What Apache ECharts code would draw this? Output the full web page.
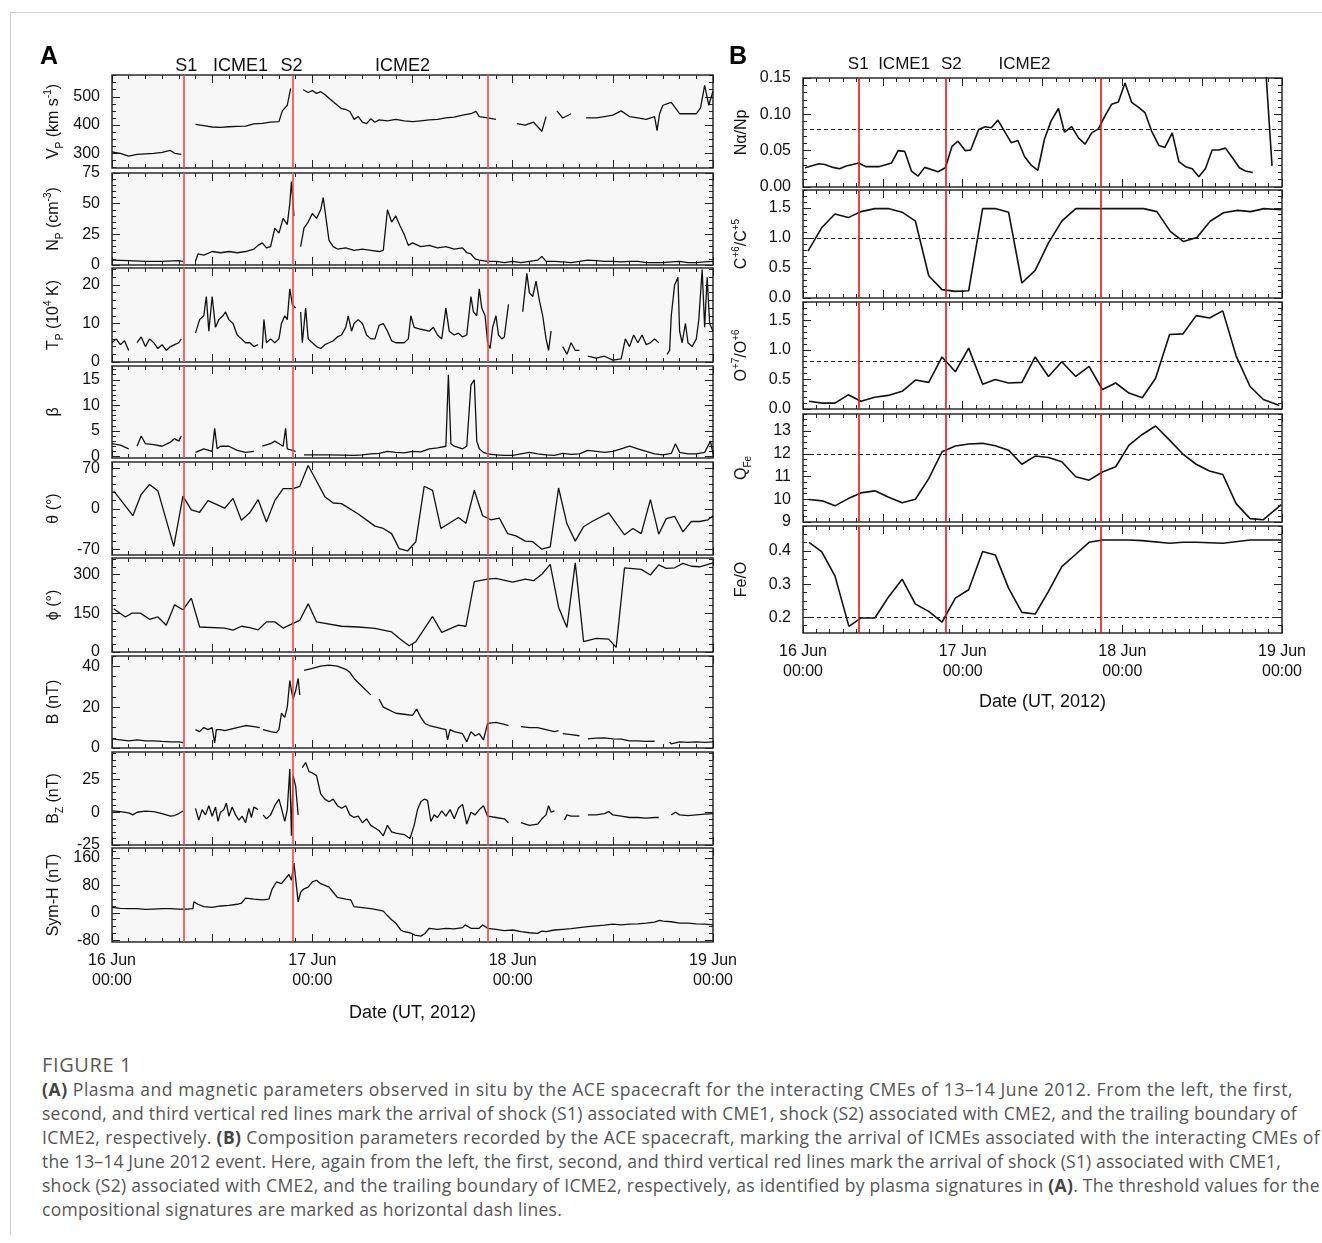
<!DOCTYPE html>
<html>
<head>
<meta charset="utf-8">
<title>ACE in situ parameters, 16-19 June 2012</title>
<script src="https://cdn.jsdelivr.net/npm/echarts@6/dist/echarts.min.js"></script>
<style>
  body { margin: 0; background: #fff; width: 1322px; height: 1243px; position: relative; overflow: hidden; }
  #frame { position: absolute; left: 10px; top: 12px; width: 1312px; height: 1222px; border-top: 1px solid #cfcfcf; border-left: 1px solid #cfcfcf; }
  #chart { position: absolute; left: 0; top: 0; width: 1322px; height: 1040px; }
  #caption { position: absolute; left: 42px; top: 1053px; font-family: 'Open Sans', sans-serif; font-size: 17.5px; line-height: 24px; color: #555; white-space: nowrap; }
  #caption .fig { font-size: 20px; color: #5a5a5a; }
  #caption b { color: #444; }
  #caption div { height: 24px; }
  #caption span { display: inline-block; }
</style>
</head>
<body>
<div id="frame"></div>
<div id="chart"></div>
<div id="caption">
  <div><span class="fig">FIGURE 1</span></div>
  <div><span><b>(A)</b> Plasma and magnetic parameters observed in situ by the ACE spacecraft for the interacting CMEs of 13–14 June 2012. From the left, the first,</span></div>
  <div><span>second, and third vertical red lines mark the arrival of shock (S1) associated with CME1, shock (S2) associated with CME2, and the trailing boundary of</span></div>
  <div><span>ICME2, respectively. <b>(B)</b> Composition parameters recorded by the ACE spacecraft, marking the arrival of ICMEs associated with the interacting CMEs of</span></div>
  <div><span>the 13–14 June 2012 event. Here, again from the left, the first, second, and third vertical red lines mark the arrival of shock (S1) associated with CME1,</span></div>
  <div><span>shock (S2) associated with CME2, and the trailing boundary of ICME2, respectively, as identified by plasma signatures in <b>(A)</b>. The threshold values for the</span></div>
  <div><span>compositional signatures are marked as horizontal dash lines.</span></div>
</div>
<script>
// time axis: hours since 16 Jun 00:00 UT
const hourTicks = [0, 24, 48, 72];
const dateLabels = ['16 Jun\n00:00', '17 Jun\n00:00', '18 Jun\n00:00', '19 Jun\n00:00'];
const boundariesA = [8.55, 21.7, 45.05];
const boundariesB = [8.45, 21.5, 44.8];
const eventNames = ['S1', 'ICME1', 'S2', 'ICME2'];
const eventHoursA = [8.9, 15.4, 21.5, 34.8];
const eventHoursB = [8.3, 15.2, 22.3, 33.3];

// panel A
const vp = [[0,305],[1,300],[2,290],[3,296],[4,298],[5,300],[6,303],[7,310],[7.5,300],[8.3,296],[8.5,null],
  [10,402],[11,398],[12,393],[13,392],[14,394],[15,395],[16,396],[17,404],[18,406],[19,410],[20,412],[20.4,450],[21,470],[21.4,530],[21.6,null],
  [22.9,525],[23.5,515],[24,522],[24.5,512],[25,518],[25.5,508],[26,495],[26.5,482],[27,470],[27.5,458],[28,455],[28.5,448],[29,420],[29.5,430],[30,410],[30.5,405],[31,422],[31.5,410],
  [32,418],[33,415],[34,420],[35,415],[36,412],[37,415],[38,418],[39,420],[40,425],[41,428],[42,435],[43,440],[43.6,448],[44,430],[45,425],[46,420],[46.5,null],
  [48.5,405],[49.5,400],[50.5,410],[51.5,378],[52,430],[52.3,null],[53.3,450],[54,425],[55,440],[55.5,null],
  [56.8,425],[58,425],[59,430],[60,435],[61,450],[62,430],[63,425],[64,420],[65,430],[65.3,380],[65.6,440],[66,470],[67,480],[68,440],[69,440],[70,440],[70.5,460],[71,540],[71.5,470],[72,520]];
const np = [[0,4],[2,3.5],[4,3],[6,3],[8,3.5],[8.5,3],[8.6,null],
  [10,3],[10.3,9],[11,8],[12,11],[13,10],[14,11],[15,10],[16,11],[17,13],[17.5,16],[18,18],[18.5,14],[19,15],[19.5,30],[20,26],[20.5,38],[21,33],[21.3,50],[21.5,68],[21.8,40],[22.2,null],
  [22.6,15],[23,30],[23.5,35],[24,42],[24.5,38],[25,45],[25.3,55],[25.6,40],[26,20],[26.5,15],[27,13],[28,14],[29,12],[30,13],[31,12],[32,11],[32.5,12],[33,45],[33.5,35],[34,40],[34.5,32],[35,25],[35.5,16],
  [36,18],[37,15],[38,16],[39,14],[40,15],[41,13],[42,14],[42.5,10],[43,9],[43.5,5],[44,4],[45,3],[46,3],[47,2],[48,3],[49,2],[50,3],[51,4],[51.5,7],[52,3],[53,3],[54,2.5],[55,2],
  [56,3],[57,4],[58,3.5],[59,3],[60,3],[61,2.5],[62,3],[63,3],[64,2],[65,2],[66,2],[67,2.5],[68,3],[69,2],[70,2],[71,2.5],[72,3]];
const tp = [[0,5],[0.5,6],[1,4.5],[1.5,5.5],[2,3],[2.5,null],[3,5],[3.5,6.5],[4,4],[4.5,6],[5,5],[5.5,3.5],[6,4.5],[6.5,3],[7,4],[7.5,4.5],[8,5],[8.3,6],[8.6,null],
  [10,7.5],[10.5,11],[11,12],[11.3,17],[11.6,8],[12,17],[12.4,9],[12.8,11],[13.3,12],[13.6,13],[14,11],[14.5,10],[15,7],[15.5,6],[16,5],[16.5,5],[17,4],[17.5,4.5],[17.8,null],
  [18,3.5],[18.2,11],[18.5,5],[19,6],[19.5,5],[20,6],[20.3,10],[20.7,12],[21,11],[21.3,19],[21.6,15],[22,14],[22.3,null],
  [22.6,13],[22.8,5],[23.2,14],[23.5,6],[24,5],[24.5,4],[25,3.5],[25.5,4.5],[26,5],[26.5,5.5],[27,6.5],[27.5,7],[28,9],[28.3,12],[28.7,8],[29,10],[29.5,11],[30,10],[30.5,7],[31,6],[31.5,6],
  [32,9.5],[32.5,10],[33,8],[33.5,5.5],[34,5],[35,5],[35.5,6],[35.8,12],[36.2,9],[37,8.5],[38,8],[38.5,9],[39,7],[39.5,6],[40,14],[40.4,8],[41,7],[41.5,7.5],[42,6.5],[42.5,7],
  [43,17],[43.3,13],[43.7,12],[44,19],[44.3,14],[44.7,12],[45,5],[45.3,3.5],[45.6,9],[46,12],[46.3,7],[46.7,6],[47,6.5],[47.5,15],[47.7,null],
  [49.2,13],[49.7,23],[50,18],[50.4,17],[50.8,21],[51.2,16],[51.6,12],[52,6],[52.3,3],[52.6,8],[52.8,null],
  [54,4],[54.5,2],[55,5],[55.5,3],[56,3],[56.2,null],[57,1.5],[58,1],[59,1.5],[60,0.5],[61,0.8],[61.5,6],[62,4],[62.5,7],[63,5],[63.5,7],[64,4.5],[64.5,5],[65,6],[65.5,5],[65.8,null],
  [66.5,2],[66.8,3],[67,12],[67.4,20],[67.8,22],[68,8],[68.3,5],[68.7,10],[69,5],[69.5,4],[70,6],[70.3,11],[70.7,24],[71,9],[71.3,22],[71.6,10],[72,8]];
const beta = [[0,2.5],[1,2.2],[2,1.5],[2.5,null],[3,2],[3.5,4],[4,2.5],[5,2.3],[6,2],[7,2.8],[7.5,3.5],[8,3],[8.3,4],[8.6,null],
  [10,0.8],[11,1.5],[12,1],[12.3,5.5],[12.6,1.5],[13,2],[14,2],[15,1.2],[16,0.8],[17,1],[17.5,null],
  [18,2],[19,2.5],[19.5,3],[20,2.5],[20.5,2],[20.8,5.5],[21,1.5],[22,1],[22.5,null],
  [23,0.3],[26,0.3],[29,0.2],[30,0.3],[31,0.5],[32,0.6],[33,1],[34,0.8],[35,0.7],[36,1],[37,0.9],[38,1.5],[39,1.7],[40,2],[40.3,16],[40.6,2.5],[41,2],[42,1.5],[42.5,2],[43,14],[43.4,15],[43.7,3],
  [44,1.5],[44.5,0.8],[45,0.5],[46,0.3],[47,0.2],[48,0.2],[49,0.5],[50,0.8],[51,0.5],[52,0.3],[53,0.2],[54,0.6],[55,0.4],[56,0.5],[57,1.2],[58,1],[59,0.8],[60,1],[61,1.5],[62,2],[63,1.5],
  [64,1],[65,0.5],[66,0.3],[67,0.6],[67.5,2.5],[68,0.8],[69,0.5],[70,0.5],[71,0.8],[71.7,3],[72,0.5]];
const theta = [[0.2,31],[2.5,-12],[3.5,25],[4.5,42],[5.5,31],[7.4,-65],[8.5,22],[9.5,-2],[10.5,-6],[11.5,14],[13.5,1],[14.5,18],[15.5,-20],[16.5,-7],[17.5,16],[18.5,-23],[19.5,14],[20.5,35],
  [21.7,35],[22.5,39],[23.5,75],[24.5,48],[25.5,21],[26.5,10],[27.5,9],[29.5,-9],[31.5,-30],[32.5,-34],[33.5,-43],[34.4,-69],[35.4,-73],[36.4,-57],[37.4,39],[38.4,32],[39.4,-34],[40.4,-25],
  [41.5,-15],[42.4,-25],[43.4,32],[44.4,-12],[45.4,-19],[46.4,-16],[47.4,-43],[48.4,-47],[49.5,-56],[50.4,-57],[51.5,-70],[52.5,-66],[53.5,36],[54.5,-26],[55.5,-56],[56.5,-31],[57.5,-22],
  [59.5,-7],[61.4,-45],[62.4,-34],[63.4,-43],[64.5,16],[65.5,-44],[66.4,-17],[67.4,-13],[68.4,-40],[69.4,-22],[70.4,-22],[71.4,-19],[72,-12]];
const phi = [[0.2,168],[1.6,136],[2.4,151],[3.4,151],[4.5,127],[5.5,136],[6.5,104],[7.5,183],[8.5,164],[9.5,209],[10.5,97],[13.5,93],[14.5,85],[15.5,100],[16.5,95],[17.5,86],[18.5,117],
  [19.5,117],[20.5,93],[21.5,108],[22.5,123],[23.5,187],[24.5,117],[27.5,100],[29.5,97],[31.5,92],[33.5,78],[34.4,53],[35.6,24],[36.4,40],[38.4,138],[39.5,76],[41.5,104],[42.4,100],
  [43.4,273],[45,283],[46,286],[48,271],[49.5,283],[50.5,277],[51.5,302],[52.5,340],[53.5,174],[54.5,95],[55.5,346],[56.5,40],[58,53],[59.5,50],[60.4,18],[61.4,327],[63.4,321],[64.5,299],
  [65.5,338],[66.4,325],[67.4,327],[68.4,344],[69.4,333],[70.4,331],[72,346]];
const bt = [[0,4.5],[1,4],[2,3.5],[3,4],[4,3.5],[5,3.5],[6,3.2],[7,3],[8,3],[8.5,2.6],[8.7,null],
  [10,9],[10.5,8],[11,10],[11.5,9],[12,10],[12.3,2.5],[12.5,9],[13,9],[13.5,8.5],[14,9],[15,10],[16,11],[17,10.5],[17.7,10],[17.9,null],
  [18.1,9],[19,8],[19.7,7.5],[20,9],[20.3,17],[20.7,15],[21,20],[21.3,33],[21.5,28],[21.7,24],[22,28],[22.3,34],[22.5,26],[22.7,null],
  [23,38],[24,39],[25,40],[26,40.5],[27,40],[28,38.5],[28.5,37],[29,34],[30,30],[31,26],[31.5,null],
  [32,24],[32.5,20],[33,19],[34,17],[35,16.5],[36,16],[36.5,19],[37,15],[37.5,12],[38,11],[39,10],[40,9],[40.2,4],[40.5,9],[41,8],[42,7],[42.5,3],[43,8],[43.5,6],[44,7],[44.5,4],
  [45,12],[46,12.5],[47,11.5],[47.5,11],[47.7,null],[49,10.5],[50,10],[51,10],[52,9],[53,8],[53.5,8.5],[53.7,null],[54,7],[55,6.5],[56,6],[56.3,null],
  [57,4.5],[58,4.8],[59,5],[60,4.5],[61,4.3],[62,3.5],[63,3.5],[64,3.2],[65,3.3],[65.6,null],[66.8,3],[67,2],[68,3],[69,2.8],[70,3],[71,2.8],[72,3]];
const bz = [[0,1],[1,0.5],[2,-0.5],[2.5,-2],[3,0],[4,0.8],[5,0.5],[6,-1],[6.5,-2],[7,-3],[7.5,-2.5],[8,-1],[8.5,1],[8.7,null],
  [10,3],[10.4,-6],[10.8,2],[11.2,-2],[11.6,5],[12,-3],[12.4,4],[12.7,-7],[13,0],[13.4,2],[13.7,7],[14,-3],[14.4,4],[14.8,-2],[15.2,-6],[15.6,-3],[16,-8],[16.4,3],[16.7,-4],[17,4],[17.5,2],[17.8,null],
  [18.1,-2],[18.5,-5],[19,-2],[19.5,5],[20,10],[20.3,3],[20.7,-7],[21,2],[21.3,33],[21.5,-18],[21.7,28],[22,20],[22.3,-2],[22.5,null],
  [22.8,34],[23.2,38],[23.6,31],[24,30],[24.5,28],[25,14],[25.5,10],[26,8],[26.5,10],[27,5],[27.5,3],[28,5],[28.5,-2],[29,-4],[29.5,-3],[30,-8],[30.5,-5],[31,-10],[31.5,-12],
  [32,-14],[32.5,-18],[33,-10],[33.5,-15],[34,-16],[35,-17],[35.7,-20],[36.2,-10],[36.6,2],[37,8],[37.4,10],[37.8,9],[38.2,-7],[38.6,-2],[39,-4],[39.5,1],[40,-3],[40.5,2],[41,-5],[41.5,3],
  [42,6],[42.5,-9],[43,0],[43.5,-2],[44,2],[44.5,5],[45,-3],[46,-4],[47,-5],[47.5,-8],[47.7,null],[49,-8],[50,-10],[51,-9],[51.5,-5],[52,-2],[52.3,5],[52.6,0],[53,1],[53.2,null],
  [54.2,-6],[54.5,-2],[55,-3],[56,-3],[56.2,null],[57,-2],[58,-2],[59,-1],[59.5,0.5],[60,-2],[61,-3],[62,-4],[63,-4],[64,-4.5],[65,-4],[65.5,-4],[65.8,null],
  [67,-2],[67.5,0],[68,-2],[69,-2.5],[70,-2],[71,-1.5],[72,-1]];
const symH = [[0,16],[1,13],[2,12],[3,12],[4,10],[5,11],[6,12],[7,12],[8,11],[9,11],[9.7,12],[9.8,32],[10.3,25],[11,18],[12,16],[13,20],[14,22],[15,25],[15.5,28],[16,43],[17,40],[18,38],
  [18.8,40],[19.2,70],[19.7,90],[20.3,85],[20.8,100],[21.2,112],[21.5,95],[21.8,145],[22,150],[22.3,32],[22.6,60],[23,70],[23.5,75],[24,90],[24.5,95],[25,85],[25.5,80],[26,75],[26.5,60],
  [27,45],[28,40],[28.6,38],[29,18],[30,15],[31,12],[32,8],[32.5,5],[33,-8],[33.5,-20],[34,-30],[34.6,-50],[35,-55],[35.7,-58],[36.3,-65],[37,-68],[37.5,-60],[38,-45],[39,-48],[40,-45],
  [41,-47],[42,-43],[42.3,-35],[43,-45],[44,-45],[44.4,-35],[45,-45],[46,-48],[47,-52],[48,-50],[49,-55],[50,-58],[51,-60],[51.5,-53],[52,-55],[53,-50],[54,-48],[55,-46],[56,-43],
  [57,-40],[58,-38],[59,-36],[60,-33],[61,-35],[62,-33],[63,-32],[64,-30],[65,-27],[65.6,-22],[66,-24],[67,-26],[68,-30],[69,-30],[70,-32],[71,-33],[72,-35]];

// panel B
const naNp = [[0.3,0.0265],[2.4,0.032],[3.3,0.031],[4.5,0.027],[5.5,0.025],[6.5,0.029],[8.4,0.033],[9.4,0.028],[11.4,0.028],[13.3,0.033],[14.3,0.05],[15.3,0.049],[16.3,0.022],[17.3,0.015],
  [18.3,0.027],[20.3,0.021],[21.4,0.0265],[22.4,0.056],[23.3,0.063],[24.4,0.05],[25.2,0.051],[26.4,0.079],[27.4,0.083],[28.3,0.0815],[29.3,0.092],[30.2,0.078],[31.3,0.061],[32.3,0.064],
  [33.3,0.042],[34.3,0.030],[35.3,0.023],[36.3,0.066],[37.3,0.091],[38.4,0.108],[39.3,0.0755],[40.4,0.083],[41.4,0.0675],[42.4,0.059],[43.4,0.0745],[44.4,0.08],[45.4,0.098],[46.4,0.114],
  [47.4,0.117],[48.4,0.143],[49.4,0.1165],[50.4,0.110],[51.4,0.1025],[52.4,0.077],[53.5,0.057],[54.4,0.0545],[55.5,0.0745],[56.5,0.035],[57.5,0.028],[58.5,0.025],[59.5,0.014],[60.5,0.0255],
  [61.5,0.051],[62.5,0.051],[63.5,0.0535],[64.5,0.041],[65.6,0.0265],[66.5,0.022],[67.6,0.02],[68.5,null],[69.5,0.17],[70.5,0.029]];
const cRatio = [[0.75,0.78],[2.8,1.17],[4.8,1.40],[6.8,1.34],[8.7,1.44],[10.8,1.49],[12.8,1.49],[14.9,1.43],[16.9,1.28],[18.9,0.37],[20.9,0.14],[22.9,0.11],[24.9,0.12],[27,1.49],[28.9,1.49],
  [30.9,1.43],[32.9,0.25],[34.9,0.46],[36.9,0.92],[38.9,1.28],[41,1.49],[45.1,1.49],[51.2,1.49],[53.2,1.44],[55.2,1.11],[57.2,0.94],[59.2,1.01],[61.2,1.28],[63.2,1.42],[65.3,1.46],
  [67.3,1.44],[69.3,1.49],[71.9,1.47]];
const oRatio = [[0.9,0.13],[2.9,0.10],[4.8,0.10],[6.8,0.24],[8.7,0.13],[10.8,0.20],[12.8,0.23],[14.9,0.30],[16.9,0.49],[18.9,0.45],[20.9,0.88],[22.9,0.63],[24.9,1.03],[27,0.42],[28.9,0.50],
  [30.9,0.44],[32.9,0.45],[34.9,0.88],[36.9,0.55],[38.9,0.80],[41,0.55],[43,0.72],[45,0.33],[47,0.44],[49,0.27],[51,0.19],[53,0.52],[55.1,1.26],[57.1,1.27],[59.1,1.58],[61.1,1.54],
  [63.1,1.66],[65.1,0.90],[67.2,0.38],[69.2,0.16],[71.6,0.06]];
const qFe = [[0.9,9.99],[2.9,9.93],[4.8,9.71],[6.8,10.03],[8.7,10.28],[10.8,10.37],[12.8,10.1],[14.9,9.85],[16.9,10.0],[18.9,10.91],[20.9,12.09],[22.9,12.34],[24.9,12.43],[27,12.46],
  [28.9,12.35],[30.9,12.16],[32.9,11.54],[34.9,11.9],[36.9,11.84],[38.9,11.65],[41,10.99],[43,10.84],[45,11.2],[47,11.43],[49,12.38],[51,12.85],[53,13.22],[55.1,12.6],[57.1,11.99],
  [59.1,11.54],[61.1,11.24],[63.1,11.09],[65.1,9.81],[67.2,9.15],[69.2,9.1],[71.9,9.76]];
const feO = [[0.9,0.426],[2.8,0.398],[4.8,0.325],[6.9,0.173],[8.7,0.198],[10.8,0.198],[12.8,0.26],[14.9,0.315],[16.9,0.24],[18.9,0.218],[20.9,0.186],[22.9,0.258],[24.9,0.283],[27,0.398],
  [28.9,0.388],[30.9,0.288],[32.9,0.215],[34.9,0.21],[36.9,0.278],[38.9,0.353],[41,0.39],[43,0.426],[45,0.433],[49,0.433],[51,0.431],[55.1,0.423],[57.1,0.426],[59.1,0.426],[63.1,0.423],
  [67.2,0.433],[71.9,0.433]];

// tick labels
const vpTicks = [300, 400, 500];
const npTicks = [0, 25, 50, 75];
const tpTicks = [0, 10, 20];
const betaTicks = [0, 5, 10, 15];
const thetaTicks = [-70, 0, 70];
const phiTicks = [0, 150, 300];
const btTicks = [0, 20, 40];
const bzTicks = [-25, 0, 25];
const symHTicks = [-80, 0, 80, 160];
const naTicks = [0, 0.05, 0.10, 0.15];
const cTicks = [0, 0.5, 1.0, 1.5];
const oTicks = [0, 0.5, 1.0, 1.5];
const qTicks = [9, 10, 11, 12, 13];
const feTicks = [0.2, 0.3, 0.4];
const thresholds = { na: 0.08, c: 1.0, o: 0.8, q: 12, fe: 0.2 };

// caption line widths in the printed figure, px
const captionWidths = [90, 1251, 1255, 1278, 1239, 1278, 520];

const FONT = '"Liberation Sans", Arial, sans-serif';
const rich = {
  n: { fontSize: 16, lineHeight: 22, fontFamily: FONT, color: '#111' },
  sup: { fontSize: 10, lineHeight: 12, verticalAlign: 'top', fontFamily: FONT, color: '#111' },
  sub: { fontSize: 10, lineHeight: 12, verticalAlign: 'bottom', fontFamily: FONT, color: '#111' }
};
const f0 = v => String(v);
const f1 = v => v.toFixed(1);
const f2 = v => v.toFixed(2);

const panels = [
  { side: 'A', data: vp, ticks: vpTicks, minor: 25, min: 248, max: 577, top: 75, height: 93, fmt: f0, name: '{n|V}{sub|P}{n| (km s}{sup|-1}{n|)}' },
  { side: 'A', data: np, ticks: npTicks, minor: 5, min: 0, max: 75, top: 173, height: 92, fmt: f0, name: '{n|N}{sub|P}{n| (cm}{sup|-3}{n|)}' },
  { side: 'A', data: tp, ticks: tpTicks, minor: 2, min: 0, max: 24.4, top: 268, height: 94, fmt: f0, name: '{n|T}{sub|P}{n| (10}{sup|4}{n| K)}' },
  { side: 'A', data: beta, ticks: betaTicks, minor: 1, min: -0.3, max: 17.7, top: 366, height: 92, fmt: f0, name: '{n|β}' },
  { side: 'A', data: theta, ticks: thetaTicks, minor: 14, min: -80, max: 81, top: 462, height: 93, fmt: f0, name: '{n|θ (°)}' },
  { side: 'A', data: phi, ticks: phiTicks, minor: 30, min: 0, max: 365, top: 558, height: 94, fmt: f0, name: '{n|ϕ (°)}' },
  { side: 'A', data: bt, ticks: btTicks, minor: 5, min: 0, max: 45, top: 656, height: 92, fmt: f0, name: '{n|B (nT)}' },
  { side: 'A', data: bz, ticks: bzTicks, minor: 5, min: -25, max: 46, top: 752, height: 93, fmt: f0, name: '{n|B}{sub|Z}{n| (nT)}' },
  { side: 'A', data: symH, ticks: symHTicks, minor: 20, min: -85, max: 189, top: 848, height: 94, fmt: f0, name: '{n|Sym-H (nT)}' },
  { side: 'B', data: naNp, ticks: naTicks, minor: 0.01, min: 0, max: 0.15, top: 78, height: 109, fmt: f2, thr: thresholds.na, name: '{n|Nα/Np}' },
  { side: 'B', data: cRatio, ticks: cTicks, minor: 0.1, min: 0, max: 1.8, top: 190, height: 108, fmt: f1, thr: thresholds.c, name: '{n|C}{sup|+6}{n|/C}{sup|+5}' },
  { side: 'B', data: oRatio, ticks: oTicks, minor: 0.1, min: 0, max: 1.81, top: 302, height: 107, fmt: f1, thr: thresholds.o, name: '{n|O}{sup|+7}{n|/O}{sup|+6}' },
  { side: 'B', data: qFe, ticks: qTicks, minor: 0.25, min: 9, max: 13.75, top: 414, height: 108, fmt: f0, thr: thresholds.q, name: '{n|Q}{sub|Fe}' },
  { side: 'B', data: feO, ticks: feTicks, minor: 0.025, min: 0.153, max: 0.475, top: 526, height: 107, fmt: f1, thr: thresholds.fe, name: '{n|Fe/O}' }
];

const tickLine = { color: '#222', width: 1 };
const grids = [], xAxes = [], yAxes = [], series = [];

panels.forEach((p, i) => {
  const isA = p.side === 'A';
  const last = i === 8 || i === 13;
  grids.push({
    left: isA ? 112 : 803, width: isA ? 601 : 479, top: p.top, height: p.height,
    show: true, backgroundColor: isA ? '#f7f7f7' : '#ffffff', borderColor: '#2b2b2b', borderWidth: 1.5
  });

  ['bottom', 'top'].forEach(pos => {
    const labelled = last && pos === 'bottom';
    xAxes.push({
      type: 'value', gridIndex: i, position: pos, min: 0, max: 72, interval: 12,
      axisLine: { show: false, onZero: false },
      splitLine: { show: false },
      axisTick: { show: true, inside: true, length: 8, lineStyle: tickLine },
      minorTick: { show: true, splitNumber: 6, length: 4, lineStyle: tickLine },
      axisLabel: {
        show: labelled, customValues: hourTicks, margin: 9,
        formatter: v => dateLabels[hourTicks.indexOf(v)] || '',
        fontSize: 16, lineHeight: 20, color: '#111', fontFamily: FONT
      },
      name: labelled ? 'Date (UT, 2012)' : '',
      nameLocation: 'middle', nameGap: isA ? 62 : 60,
      nameTextStyle: { fontSize: 18, color: '#111', fontFamily: FONT }
    });
  });

  const minors = [];
  const start = Math.ceil(p.min / p.minor - 1e-6);
  for (let k = start; k * p.minor <= p.max + 1e-9; k++) minors.push(+(k * p.minor).toFixed(4));

  const base = {
    type: 'value', gridIndex: i, min: p.min, max: p.max,
    axisLine: { show: false, onZero: false }, splitLine: { show: false }
  };
  yAxes.push({
    ...base, position: 'left',
    axisTick: { show: true, inside: true, length: 8, customValues: p.ticks, lineStyle: tickLine },
    axisLabel: { show: true, customValues: p.ticks, formatter: p.fmt, fontSize: 16, color: '#111', margin: 12, fontFamily: FONT },
    name: p.name, nameLocation: 'middle', nameRotate: 90, nameGap: isA ? 47 : 50,
    nameTextStyle: { rich }
  });
  yAxes.push({ ...base, position: 'right',
    axisTick: { show: true, inside: true, length: 8, customValues: p.ticks, lineStyle: tickLine },
    axisLabel: { show: false } });
  yAxes.push({ ...base, position: 'left',
    axisTick: { show: true, inside: true, length: 4, customValues: minors, lineStyle: tickLine },
    axisLabel: { show: false } });
  yAxes.push({ ...base, position: 'right',
    axisTick: { show: true, inside: true, length: 4, customValues: minors, lineStyle: tickLine },
    axisLabel: { show: false } });

  const lines = (isA ? boundariesA : boundariesB).map(h => ({ xAxis: h }));
  if (p.thr !== undefined) {
    lines.push({ yAxis: p.thr, lineStyle: { type: [4, 3], color: '#222', width: 1 } });
  }
  series.push({
    type: 'line', xAxisIndex: 2 * i, yAxisIndex: 4 * i, data: p.data,
    symbol: 'none', showSymbol: false, clip: true, connectNulls: false,
    lineStyle: { color: '#111', width: isA ? 1.3 : 1.6 },
    markLine: {
      silent: true, symbol: ['none', 'none'], label: { show: false }, animation: false,
      lineStyle: { type: 'solid', color: isA ? '#f04646' : '#ee1111', width: 1.6 },
      data: lines
    }
  });
});

const chart = echarts.init(document.getElementById('chart'));
chart.setOption({ animation: false, grid: grids, xAxis: xAxes, yAxis: yAxes, series });

const graphic = [
  { type: 'text', x: 40, y: 57, style: { text: 'A', font: 'bold 25px ' + FONT, fill: '#000', verticalAlign: 'middle' } },
  { type: 'text', x: 729, y: 57, style: { text: 'B', font: 'bold 25px ' + FONT, fill: '#000', verticalAlign: 'middle' } }
];
eventNames.forEach((n, k) => {
  graphic.push({ type: 'text', x: chart.convertToPixel({ xAxisIndex: 0 }, eventHoursA[k]), y: 66,
    style: { text: n, font: '18px ' + FONT, fill: '#111', align: 'center', verticalAlign: 'middle' } });
  graphic.push({ type: 'text', x: chart.convertToPixel({ xAxisIndex: 18 }, eventHoursB[k]), y: 64,
    style: { text: n, font: '17px ' + FONT, fill: '#111', align: 'center', verticalAlign: 'middle' } });
});
chart.setOption({ graphic });

// stretch each caption line to its printed width
document.querySelectorAll('#caption span').forEach((s, k) => {
  const w = s.getBoundingClientRect().width;
  const n = s.textContent.length;
  s.style.letterSpacing = ((captionWidths[k] - w) / n).toFixed(3) + 'px';
});

window.addEventListener('resize', function () {
  chart.resize();
});
</script>
</body>
</html>
